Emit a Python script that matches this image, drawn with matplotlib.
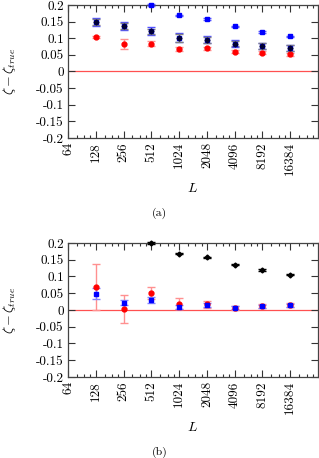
import numpy as np
import matplotlib
matplotlib.use("Agg")
import matplotlib.pyplot as plt
from matplotlib.ticker import FixedLocator, FixedFormatter, NullFormatter

plt.rcParams['font.family'] = ['cmr10', 'DejaVu Serif']
plt.rcParams['mathtext.fontset'] = 'cm'
plt.rcParams['axes.unicode_minus'] = False

# system sizes
L = [128, 256, 512, 1024, 2048, 4096, 8192, 16384]
nan = np.nan

# panel (a)
red_a = [0.103, 0.084, 0.084, 0.069, 0.070, 0.060, 0.057, 0.052]
red_a_err = [0.003, 0.015, 0.007, 0.006, 0.005, 0.005, 0.005, 0.005]
blue_a = [nan, nan, 0.200, 0.169, 0.158, 0.136, 0.119, 0.106]
blue_a_err = [nan, nan, 0.002, 0.002, 0.002, 0.002, 0.002, 0.002]
navy_a = [0.150, 0.137, 0.121, 0.102, 0.096, 0.084, 0.077, 0.071]
navy_a_err = [0.012, 0.013, 0.012, 0.014, 0.011, 0.010, 0.010, 0.010]
black_a = [0.150, 0.137, 0.121, 0.102, 0.096, 0.084, 0.077, 0.071]
black_a_err = [0.009, 0.010, 0.008, 0.012, 0.009, 0.008, 0.008, 0.008]

# panel (b)
red_b = [0.069, 0.003, 0.050, 0.019, 0.017, 0.005, 0.012, 0.014]
red_b_err = [0.068, 0.042, 0.018, 0.016, 0.010, 0.006, 0.006, 0.006]
blue_b = [0.049, 0.022, 0.029, 0.009, 0.016, 0.007, 0.011, 0.014]
blue_b_err = [0.016, 0.007, 0.009, 0.005, 0.006, 0.004, 0.004, 0.005]
black_b = [nan, nan, 0.200, 0.168, 0.157, 0.135, 0.119, 0.105]
black_b_err = [nan, nan, 0.002, 0.002, 0.002, 0.002, 0.002, 0.002]

xticks = [64, 128, 256, 512, 1024, 2048, 4096, 8192, 16384]
yticks = [-0.2, -0.15, -0.1, -0.05, 0, 0.05, 0.1, 0.15, 0.2]
ytick_labels = ['-0.2', '-0.15', '-0.1', '-0.05', '0', '0.05', '0.1', '0.15', '0.2']


def series(ax, y, err, color, ecolor, marker, ms):
    ax.errorbar(L, y, yerr=err, fmt=marker, color=color, ecolor=ecolor,
                ms=ms, markeredgecolor=color, elinewidth=1.0, capsize=3,
                capthick=1.0, clip_on=False, zorder=3)


def setup(ax):
    ax.set_xscale('log', base=2)
    ax.set_xlim(64, 32768)
    ax.set_ylim(-0.2, 0.2)
    ax.axhline(0, color='#ff5050', lw=0.9, zorder=1)
    ax.xaxis.set_major_locator(FixedLocator(xticks))
    ax.xaxis.set_major_formatter(FixedFormatter([str(v) for v in xticks]))
    minors = [b * m for b in [64 * 2 ** k for k in range(9)] for m in (1.25, 1.5, 1.75)]
    ax.xaxis.set_minor_locator(FixedLocator(minors))
    ax.xaxis.set_minor_formatter(NullFormatter())
    ax.yaxis.set_major_locator(FixedLocator(yticks))
    ax.yaxis.set_major_formatter(FixedFormatter(ytick_labels))
    ax.tick_params(which='both', direction='in', top=True, right=True,
                   labelsize=9.5, color='#333333', width=0.8)
    ax.tick_params(which='major', length=5, pad=3)
    ax.tick_params(which='minor', length=2.5)
    ax.tick_params(axis='x', labelrotation=90)
    for s in ax.spines.values():
        s.set_color('#444444')
        s.set_linewidth(0.9)
    ax.set_xlabel('$L$', fontsize=10, labelpad=5)
    ax.set_ylabel(r'$\zeta - \zeta_{true}$', fontsize=10)
    ax.yaxis.set_label_coords(-0.2, 0.5)


fig = plt.figure(figsize=(3.19, 4.58), dpi=100)
ax1 = fig.add_axes([0.213, 0.6987, 0.784, 0.2904])
ax2 = fig.add_axes([0.213, 0.1769, 0.784, 0.2926])

setup(ax1)
series(ax1, red_a, red_a_err, '#ff0000', '#ff9090', 'o', 3.5)
series(ax1, blue_a, blue_a_err, '#0000ff', '#6060ff', 's', 3)
series(ax1, navy_a, navy_a_err, '#0000cc', '#5050ff', 's', 2.5)
series(ax1, black_a, black_a_err, '#000033', '#808080', 'D', 2.5)

setup(ax2)
series(ax2, black_b, black_b_err, '#000000', '#000000', 'D', 2.5)
series(ax2, red_b, red_b_err, '#ff0000', '#ff9090', 'o', 3.5)
series(ax2, blue_b, blue_b_err, '#0000ff', '#8080ff', 's', 3)

fig.text(0.5, 1 - 213 / 458, '(a)', ha='center', va='center', fontsize=8.5)
fig.text(0.5, 1 - 452 / 458, '(b)', ha='center', va='center', fontsize=8.5)

fig.savefig('out.png', dpi=100)
